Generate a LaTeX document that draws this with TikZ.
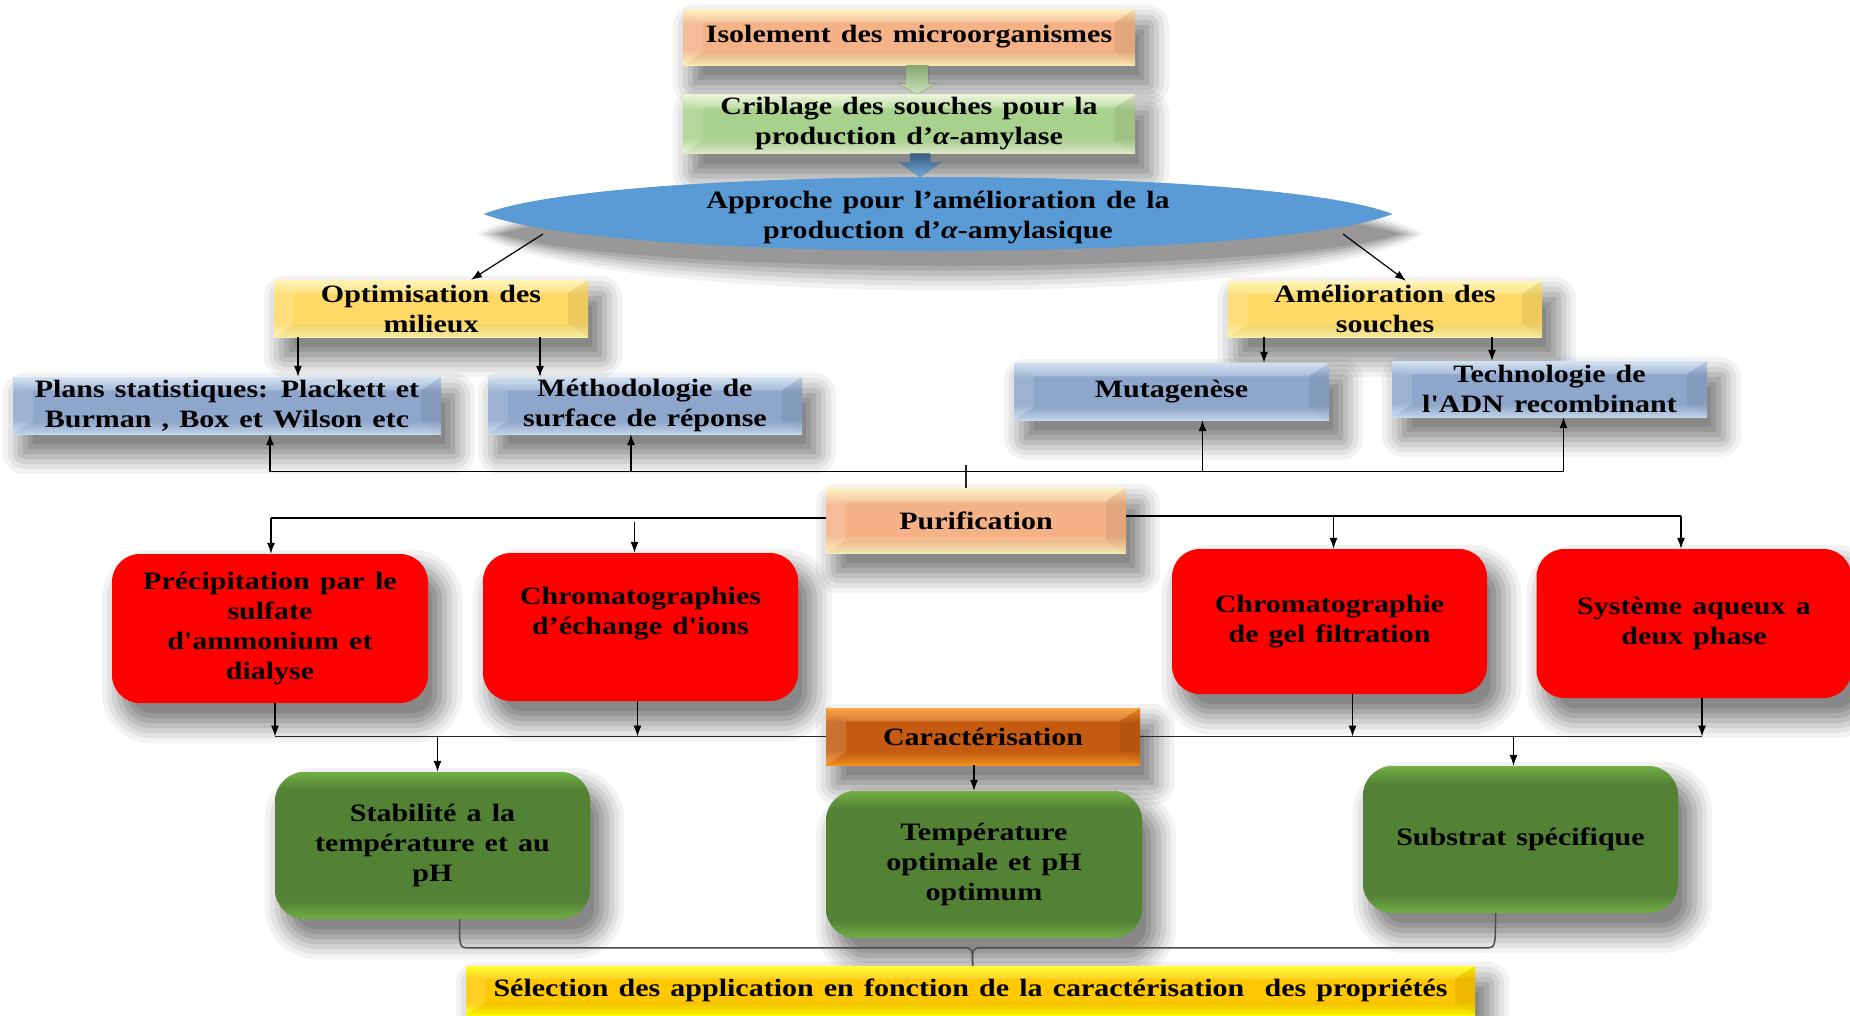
\documentclass[tikz,border=0pt]{standalone}
\usepackage{fontspec}
\setmainfont{Liberation Serif}[FakeStretch=1.2, Ligatures=TeXOff, WordSpace=1.35]
\usetikzlibrary{calc,arrows.meta}

\definecolor{peachM}{HTML}{F5B286}
\definecolor{peachE}{HTML}{FFF0B8}
\definecolor{lgreenM}{HTML}{A9D18E}
\definecolor{lgreenE}{HTML}{E8F5D2}
\definecolor{yelM}{HTML}{FFD966}
\definecolor{yelE}{HTML}{FFF4A8}
\definecolor{bgM}{HTML}{8EA6CB}
\definecolor{bgE}{HTML}{C8DCF3}
\definecolor{orM}{HTML}{C55A11}
\definecolor{orE}{HTML}{FA9420}
\definecolor{selM}{HTML}{FFC800}
\definecolor{selE}{HTML}{FFFF00}
\definecolor{lensM}{HTML}{5B9BD5}
\definecolor{lensE}{HTML}{8AD8F6}
\definecolor{dgM}{HTML}{548235}
\definecolor{dgE}{HTML}{72B046}

\colorlet{bvmid}{white}
\colorlet{bvedge}{white}
\pgfdeclareverticalshading[bvedge,bvmid]{bevshade}{100bp}{color(0bp)=(bvedge); color(25bp)=(bvedge); color(38bp)=(bvmid); color(62bp)=(bvmid); color(75bp)=(bvedge); color(100bp)=(bvedge)}
\pgfdeclareverticalshading[bvedge,bvmid]{softshade}{100bp}{color(0bp)=(bvedge); color(25bp)=(bvedge); color(31bp)=(bvmid); color(69bp)=(bvmid); color(75bp)=(bvedge); color(100bp)=(bvedge)}

\pgfdeclarelayer{bg}
\pgfdeclarelayer{shadow}
\pgfsetlayers{bg,shadow,main}

% soft shadow behind a (rounded) rectangular node: #1 node name, #2 corner radius
\newcommand\softshadow[2]{%
  \foreach \d/\o in {22/.05,17/.06,12/.08,7/.09,2/.10,-3/.10,-8/.10}{%
    \pgfmathsetmacro\rr{max(#2+\d,0.1)}%
    \fill[black, opacity=\o, rounded corners=\rr pt] ($(#1.north west)+(12-\d,18-\d)$) rectangle ($(#1.south east)+(12+\d,18+\d)$);
  }}

\tikzset{
  txt/.style={font=\fontsize{25}{30}\selectfont\bfseries, align=center, text=black, inner sep=0pt},
  bevelbox/.style n args={4}{txt, rectangle, minimum width=#3, minimum height=#4, fill=#1,
    /utils/exec={\colorlet{bvmid}{#1}\colorlet{bvedge}{#2}},
    path picture={
      \shade[shading=bevshade] (path picture bounding box.south west) rectangle (path picture bounding box.north east);
      \fill[white,opacity=.18] (path picture bounding box.north west) -- (path picture bounding box.north east) -- ([shift={(-20pt,-13pt)}]path picture bounding box.north east) -- ([shift={(20pt,-13pt)}]path picture bounding box.north west) -- cycle;
      \fill[white,opacity=.14] (path picture bounding box.north west) -- ([shift={(20pt,-13pt)}]path picture bounding box.north west) -- ([shift={(20pt,13pt)}]path picture bounding box.south west) -- (path picture bounding box.south west) -- cycle;
      \fill[black,opacity=.07] (path picture bounding box.north east) -- ([shift={(-20pt,-13pt)}]path picture bounding box.north east) -- ([shift={(-20pt,13pt)}]path picture bounding box.south east) -- (path picture bounding box.south east) -- cycle;
      \fill[black,opacity=.04] (path picture bounding box.south west) -- (path picture bounding box.south east) -- ([shift={(-20pt,13pt)}]path picture bounding box.south east) -- ([shift={(20pt,13pt)}]path picture bounding box.south west) -- cycle;
    }},
  redbox/.style 2 args={txt, rectangle, rounded corners=28pt, fill=red, minimum width=#1, minimum height=#2},
  greenbox/.style 2 args={txt, rectangle, rounded corners=30pt, minimum width=#1, minimum height=#2, fill=dgM,
    /utils/exec={\colorlet{bvmid}{dgM}\colorlet{bvedge}{dgE}},
    path picture={\shade[shading=softshade] (path picture bounding box.south west) rectangle (path picture bounding box.north east);}},
  arr/.style={draw=black, line width=1.2pt, -{Latex[length=11pt,width=8pt]}},
  ln/.style={draw=black!85, line width=1.2pt},
  pl/.style={draw=black, line width=2pt},
  brc/.style={draw=gray!60!black, line width=1.5pt},
  garrow/.style={top color=lgreenM!80!black, bottom color=lgreenM!60!white},
  barrow/.style={top color=lensM!60!black, bottom color=lensM!85!white},
}

\begin{document}
\begin{tikzpicture}[x=1pt,y=-1pt]
\begin{pgfonlayer}{bg}
\fill[white] (0,0) rectangle (1850,1015);
\end{pgfonlayer}
\useasboundingbox (0,0) rectangle (1850,1015);

% ---- top chain
\node[bevelbox={peachM}{peachE}{452pt}{56pt}] (iso) at (909,37) {Isolement des microorganismes};
\node[bevelbox={lgreenM}{lgreenE}{452pt}{59pt}] (crib) at (909,124) {Criblage des souches pour la\\production d’{\itshape α}-amylase};

\path[fill=lensM, /utils/exec={\colorlet{bvmid}{lensM}\colorlet{bvedge}{lensE}},
  path picture={\shade[shading=softshade] (path picture bounding box.south west) rectangle (path picture bounding box.north east);}]
  (484,214) .. controls (610,165) and (1266,165) .. (1392,214) .. controls (1266,263) and (610,263) .. cycle;
\node[txt] (ell) at (938,218) {Approche pour l’amélioration de la\\production d’{\itshape α}-amylasique};

% ---- second level
\node[bevelbox={yelM}{yelE}{314pt}{57pt}] (opt) at (431,308.5) {Optimisation des\\milieux};
\node[bevelbox={yelM}{yelE}{314pt}{56pt}] (ame) at (1385,309) {Amélioration des\\souches};

\node[bevelbox={bgM}{bgE}{428pt}{57pt}] (plans) at (227,405.5) {Plans statistiques: Plackett et\\Burman , Box et Wilson etc};
\node[bevelbox={bgM}{bgE}{314pt}{57pt}] (meth) at (645,405.5) {Méthodologie de\\surface de réponse};
\node[bevelbox={bgM}{bgE}{315pt}{57pt}] (muta) at (1171.5,391.5) {Mutagenèse};
\node[bevelbox={bgM}{bgE}{315pt}{56pt}] (tech) at (1549.5,389) {Technologie de\\l'ADN recombinant};

% ---- purification
\node[bevelbox={peachM}{peachE}{300pt}{65pt}] (puri) at (976,520.5) {Purification};

\node[redbox={316pt}{149pt}] (prec) at (270,628.5) {Précipitation par le\\sulfate\\d'ammonium et\\dialyse};
\node[redbox={315pt}{148pt}] (chrom) at (640.5,627) {Chromatographies\\d’échange d'ions\\[2pt]\mbox{}};
\node[redbox={315pt}{145pt}] (gel) at (1329.5,621.5) {Chromatographie\\de gel filtration};
\node[redbox={315pt}{149pt}] (syst) at (1694,623.5) {Système aqueux a\\deux phase};

% ---- characterisation
\node[bevelbox={orM}{orE}{314pt}{57pt}] (cara) at (983,736.5) {Caractérisation};

\node[greenbox={315pt}{147pt}] (stab) at (432.5,845.5) {Stabilité a la\\température et au\\pH};
\node[greenbox={316pt}{147pt}] (temp) at (984,864.5) {Température\\optimale et pH\\optimum};
\node[greenbox={315pt}{147pt}] (subs) at (1520.5,839.5) {Substrat spécifique};

\node[bevelbox={selM}{selE}{1009pt}{49pt}] (sel) at (970.5,990.5) {Sélection des application en fonction de la caractérisation \ des propriétés};

% ---- soft shadows (below everything)
\begin{pgfonlayer}{shadow}
  \foreach \n in {iso,crib,opt,ame,plans,meth,muta,tech,puri,cara,sel}{\softshadow{\n}{0}}
  \foreach \n in {prec,chrom,gel,syst}{\softshadow{\n}{28}}
  \foreach \n in {stab,temp,subs}{\softshadow{\n}{30}}
  \foreach \d/\o in {20/.05,15/.06,10/.08,5/.09,0/.10,-5/.10}{
    \fill[black, opacity=\o, shift={(950,234)}, xscale={(454+\d)/454}, yscale={(37+\d)/37}]
      (-454,0) .. controls (-328,-49) and (328,-49) .. (454,0) .. controls (328,49) and (-328,49) .. cycle;
  }
\end{pgfonlayer}

% ---- block arrows
\path (iso.south) ++(8,0) coordinate (ga);
\path (crib.north) ++(8,0) coordinate (gb);
\fill[garrow] ($(ga)+(-11,0)$) -- ($(ga)+(11,0)$) -- ($(gb)+(11,-11)$) -- ($(gb)+(20,-11)$) -- (gb) -- ($(gb)+(-20,-11)$) -- ($(gb)+(-11,-11)$) -- cycle;
\path (crib.south) ++(11,0) coordinate (ba);
\path (ell.center) ++(-18,-41) coordinate (bb);
\fill[barrow] ($(ba)+(-10,0)$) -- ($(ba)+(10,0)$) -- ($(bb)+(10,-15)$) -- ($(bb)+(21,-15)$) -- (bb) -- ($(bb)+(-21,-15)$) -- ($(bb)+(-10,-15)$) -- cycle;

% ---- approach -> branches
\coordinate (ellL) at ($(ell.center)+(-395,16)$);
\coordinate (ellR) at ($(ell.center)+(405,16)$);
\draw[arr] (ellL) -- ($(opt.north)+(40,0)$);
\draw[arr] (ellR) -- ($(ame.north)+(21,0)$);

\coordinate (o1) at ($(opt.south)+(-133,0)$);
\coordinate (o2) at ($(opt.south)+(109,0)$);
\draw[arr] (o1) -- (o1 |- plans.north);
\draw[arr] (o2) -- (o2 |- meth.north);
\coordinate (a1) at ($(ame.south)+(-121,0)$);
\coordinate (a2) at ($(ame.south)+(107,0)$);
\draw[arr] (a1) -- (a1 |- muta.north);
\draw[arr] (a2) -- (a2 |- tech.north);

% ---- purification feedback
\draw[ln] ($(puri.north)+(-10,0)$) -- ($(puri.north)+(-10,-23)$);
\coordinate (fb) at ($(puri.north)+(-10,-16)$);
\draw[arr] (fb) -| ($(plans.south)+(43,0)$);
\draw[arr] (fb) -| ($(meth.south)+(-14,0)$);
\draw[arr] (fb) -| ($(muta.south)+(31,0)$);
\draw[arr] (fb) -| ($(tech.south)+(14,0)$);

% ---- purification -> methods
\coordinate (pL) at ($(puri.west)+(0,-3)$);
\coordinate (pR) at ($(puri.east)+(0,-5)$);
\coordinate (r1) at ($(prec.north)+(1,0)$);
\coordinate (r2) at ($(chrom.north)+(-6,0)$);
\coordinate (r3) at ($(gel.north)+(4,0)$);
\coordinate (r4) at ($(syst.north)+(-13,0)$);
\draw[pl] (pL) -- (r1 |- pL);
\draw[pl] (pR) -- (r4 |- pR);
\draw[arr] (r1 |- pL) -- (r1);
\draw[arr] ($(r2 |- pL)+(0,4)$) -- (r2);
\draw[arr] (r3 |- pR) -- (r3);
\draw[arr] (r4 |- pR) -- (r4);

% ---- methods -> characterisation line
\coordinate (s1) at ($(prec.south)+(5,0)$);
\coordinate (s2) at ($(chrom.south)+(-3,0)$);
\coordinate (s3) at ($(gel.south)+(23,0)$);
\coordinate (s4) at ($(syst.south)+(8,0)$);
\draw[ln] (s1 |- cara.west) -- (cara.west);
\draw[ln] (cara.east) -- (s4 |- cara.east);
\draw[arr] (s1) -- (s1 |- cara.west);
\draw[arr] (s2) -- (s2 |- cara.west);
\draw[arr] (s3) -- (s3 |- cara.east);
\draw[arr] (s4) -- (s4 |- cara.east);

% ---- characterisation -> properties
\coordinate (t1) at ($(stab.north)+(5,0)$);
\coordinate (t2) at ($(cara.south)+(-9,0)$);
\coordinate (t3) at ($(subs.north)+(-7,0)$);
\draw[arr] (t1 |- cara.west) -- (t1);
\draw[arr] (t2) -- (t2 |- temp.north);
\draw[arr] (t3 |- cara.east) -- (t3);

% ---- brace to selection
\coordinate (bL) at ($(stab.south)+(27,0)$);
\coordinate (bR) at ($(subs.south)+(-25,0)$);
\coordinate (bM) at ($(sel.north)+(2,0)$);
\coordinate (bY) at ($(bM)+(0,-18)$);
\draw[brc] (bL) .. controls (bL |- bY) .. ($(bL |- bY)+(10,0)$) -- ($(bY)+(-10,0)$) .. controls (bY) .. (bM);
\draw[brc] (bR) .. controls (bR |- bY) .. ($(bR |- bY)+(-10,0)$) -- ($(bY)+(10,0)$) .. controls (bY) .. (bM);
\end{tikzpicture}
\end{document}
